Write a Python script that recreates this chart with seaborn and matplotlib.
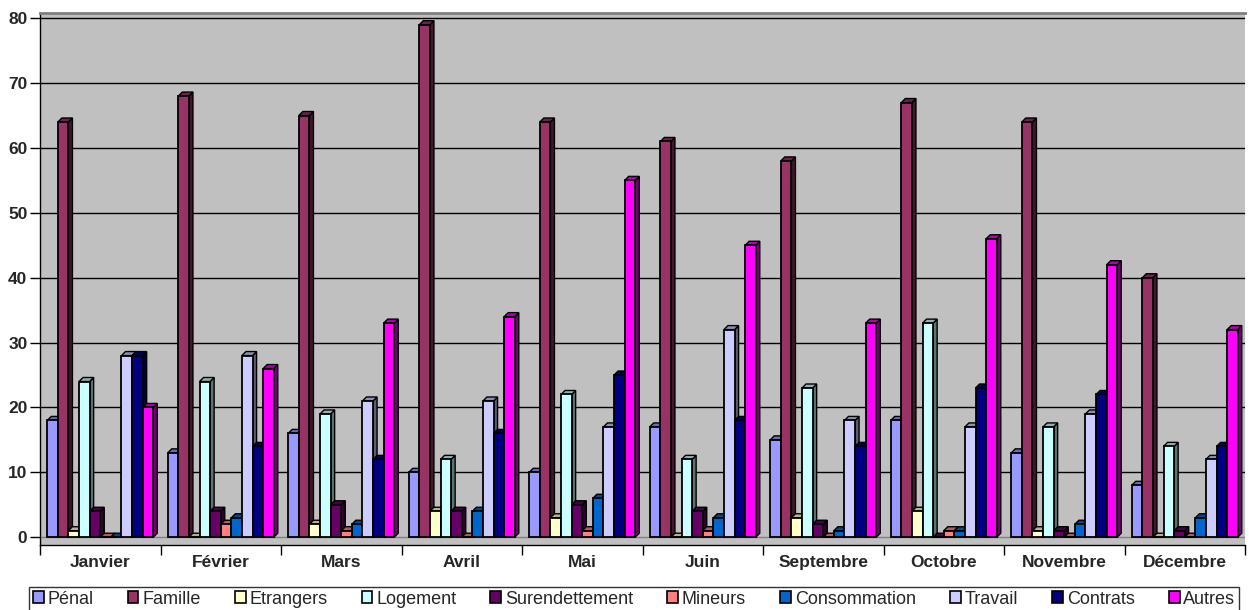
import numpy as np
import pandas as pd
import seaborn as sns
import matplotlib.pyplot as plt
from matplotlib.patches import Polygon, Patch
from matplotlib import colors as mcolors

months = ["Janvier", "Février", "Mars", "Avril", "Mai", "Juin",
          "Septembre", "Octobre", "Novembre", "Décembre"]
series = ["Pénal", "Famille", "Etrangers", "Logement", "Surendettement",
          "Mineurs", "Consommation", "Travail", "Contrats", "Autres"]

penal          = [18, 13, 16, 10, 10, 17, 15, 18, 13, 8]
famille        = [64, 68, 65, 79, 64, 61, 58, 67, 64, 40]
etrangers      = [1, 0, 2, 4, 3, 0, 3, 4, 1, 0]
logement       = [24, 24, 19, 12, 22, 12, 23, 33, 17, 14]
surendettement = [4, 4, 5, 4, 5, 4, 2, 0, 1, 1]
mineurs        = [0, 2, 1, 0, 1, 1, 0, 1, 0, 0]
consommation   = [0, 3, 2, 4, 6, 3, 1, 1, 2, 3]
travail        = [28, 28, 21, 21, 17, 32, 18, 17, 19, 12]
contrats       = [28, 14, 12, 16, 25, 18, 14, 23, 22, 14]
autres         = [20, 26, 33, 34, 55, 45, 33, 46, 42, 32]

palette = ["#9999FF", "#993366", "#FFFFCC", "#CCFFFF", "#660066",
           "#FF8080", "#0066CC", "#CCCCFF", "#000080", "#FF00FF"]

values = [penal, famille, etrangers, logement, surendettement,
          mineurs, consommation, travail, contrats, autres]
df = pd.DataFrame({
    "Mois": np.tile(months, len(series)),
    "Domaine": np.repeat(series, len(months)),
    "Nombre": np.concatenate(values),
})

sns.set_theme(style="white")
plt.rcParams["font.family"] = ["Liberation Sans", "DejaVu Sans"]

fig = plt.figure(figsize=(12.53, 6.10), dpi=100)
W, H = 1253, 610
ax = fig.add_axes([40 / W, (H - 545) / H, 1205 / W, 532 / H])
ax.set_facecolor("#C0C0C0")

sns.barplot(data=df, x="Mois", y="Nombre", hue="Domaine",
            order=months, hue_order=series, palette=palette,
            width=0.88, gap=0, edgecolor="black", linewidth=1.3,
            saturation=1, ax=ax, legend=False, zorder=3)

ax.set_xlim(-0.5, 9.5)
ax.set_ylim(-1.2, 80.8)

# 3-D look: side and top faces for every bar
dx = 4 / 120.5
dy = 4 / 6.49
bars = list(ax.patches)
for p in bars:
    x0 = p.get_x()
    x1 = x0 + p.get_width()
    y1 = p.get_height()
    fc = np.array(mcolors.to_rgb(p.get_facecolor()))
    side = Polygon([(x1, 0), (x1 + dx, dy), (x1 + dx, y1 + dy), (x1, y1)],
                   closed=True, facecolor=fc * 0.45, edgecolor="black",
                   linewidth=1.0, zorder=2.9)
    top = Polygon([(x0, y1), (x0 + dx, y1 + dy), (x1 + dx, y1 + dy), (x1, y1)],
                  closed=True, facecolor=fc * 0.7, edgecolor="black",
                  linewidth=1.0, zorder=2.9)
    ax.add_patch(side)
    ax.add_patch(top)

# grid lines and axes
ax.set_yticks(range(0, 81, 10))
for y in range(10, 81, 10):
    ax.axhline(y, color="black", linewidth=1.0, zorder=1)
ax.axhline(0, color="#808080", linewidth=1.0, zorder=1)
ax.set_xticks([i + 0.5 for i in range(-1, 10)], minor=True)
ax.set_xticks(range(10))
ax.set_xticklabels(months, fontsize=12.5, fontweight="bold")
for lab in ax.get_xticklabels():
    lab.set_va("baseline")
ax.tick_params(axis="x", which="major", length=0, pad=15.5)
ax.tick_params(axis="x", which="minor", length=7, width=1, color="black",
               direction="out", bottom=True)
ax.tick_params(axis="y", length=7, width=1, color="black", direction="out",
               left=True, labelsize=12.5, pad=2)
for lab in ax.get_yticklabels():
    lab.set_fontweight("bold")
ax.set_xlabel("")
ax.set_ylabel("")
for name, sp in ax.spines.items():
    sp.set_visible(True)
    sp.set_linewidth(1.0)
ax.spines["left"].set_color("black")
ax.spines["bottom"].set_color("black")
ax.spines["top"].set_color("#808080")
ax.spines["top"].set_linewidth(2)
ax.spines["right"].set_visible(False)

handles = [Patch(facecolor=c, edgecolor="black", linewidth=1.2) for c in palette]
leg = fig.legend(handles, series, loc="center", ncol=10,
                 bbox_to_anchor=(634 / W, (H - 599) / H),
                 frameon=True, fancybox=False, edgecolor="black",
                 fontsize=13, handlelength=0.6, handleheight=0.6,
                 handletextpad=0.2, columnspacing=1.9,
                 borderpad=0.2, borderaxespad=0)
leg.get_frame().set_linewidth(1.0)

fig.savefig("out.png", dpi=100, facecolor="white")
